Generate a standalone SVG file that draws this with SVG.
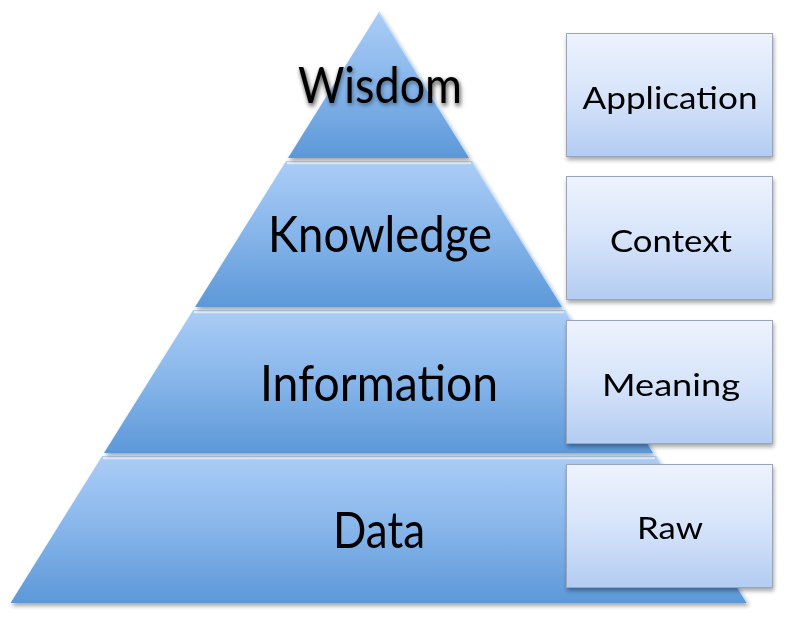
<svg xmlns="http://www.w3.org/2000/svg" width="800" height="617" viewBox="0 0 800 617">
<style>
.lay{stroke:none}
.hl{fill:none;stroke:#e4f0ff;stroke-width:2.5;stroke-linecap:round}
.edge{fill:none;stroke:#c4ddfa;stroke-width:1.5}
.big{font-family:Lato,"Open Sans","Liberation Sans",sans-serif;font-size:51px;fill:#000;text-anchor:middle}
.box{fill:url(#gBox);stroke:#9aa6b8;stroke-width:1}
.bt{font-family:Lato,"Open Sans","Liberation Sans",sans-serif;font-size:31px;fill:#000;text-anchor:middle}
</style>
<defs>
<linearGradient id="gLay" x1="0" y1="0" x2="0" y2="1">
<stop offset="0" stop-color="#abcdf6"/>
<stop offset="0.5" stop-color="#86b5ea"/>
<stop offset="1" stop-color="#5c98d8"/>
</linearGradient>
<linearGradient id="gBox" x1="0" y1="0" x2="0" y2="1">
<stop offset="0" stop-color="#edf3fd"/>
<stop offset="0.5" stop-color="#d6e4fa"/>
<stop offset="1" stop-color="#b3ccf2"/>
</linearGradient>
<filter id="sh" x="-10%" y="-10%" width="120%" height="125%">
<feGaussianBlur in="SourceAlpha" stdDeviation="2"/>
<feOffset dx="1" dy="3" result="b"/>
<feComponentTransfer><feFuncA type="linear" slope="0.35"/></feComponentTransfer>
<feMerge><feMergeNode/><feMergeNode in="SourceGraphic"/></feMerge>
</filter>
<filter id="tsh" x="-10%" y="-20%" width="120%" height="140%">
<feGaussianBlur in="SourceAlpha" stdDeviation="2"/>
<feOffset dx="1" dy="2" result="b"/>
<feComponentTransfer><feFuncA type="linear" slope="0.45"/></feComponentTransfer>
<feMerge><feMergeNode/><feMergeNode in="SourceGraphic"/></feMerge>
</filter>
</defs>
<rect width="800" height="617" fill="#ffffff"/>

<g id="data" filter="url(#sh)">
<polygon class="lay" fill="url(#gLay)" points="102.2,456 655.8,456 747.5,603 10.5,603"/>
<line class="hl" x1="104" y1="458" x2="654" y2="458"/>
<line class="edge" x1="655.8" y1="456" x2="747.5" y2="603"/>
<text class="big" x="379" y="548" textLength="92" lengthAdjust="spacingAndGlyphs">Data</text>
</g>
<g id="information" filter="url(#sh)">
<polygon class="lay" fill="url(#gLay)" points="193.2,310 564.8,310 654,453 104,453"/>
<line class="hl" x1="195" y1="312" x2="563" y2="312"/>
<line class="edge" x1="564.8" y1="310" x2="654" y2="453"/>
<text class="big" x="379" y="401" textLength="238" lengthAdjust="spacingAndGlyphs">Information</text>
</g>
<g id="knowledge" filter="url(#sh)">
<polygon class="lay" fill="url(#gLay)" points="286.1,161 471.9,161 562.9,307 195.1,307"/>
<line class="hl" x1="288" y1="163" x2="470" y2="163"/>
<line class="edge" x1="471.9" y1="161" x2="562.9" y2="307"/>
<text class="big" x="380" y="252" textLength="224" lengthAdjust="spacingAndGlyphs">Knowledge</text>
</g>
<g id="wisdom" filter="url(#sh)">
<polygon class="lay" fill="url(#gLay)" points="379,12 470,158 288,158"/>
<line class="edge" x1="379" y1="12" x2="470" y2="158"/>
<text class="big" x="380" y="103" textLength="164" lengthAdjust="spacingAndGlyphs" filter="url(#tsh)">Wisdom</text>
</g>

<g id="application" filter="url(#sh)">
<rect class="box" x="566.5" y="33.5" width="206" height="123"/>
<text class="bt" x="670" y="109" textLength="175" lengthAdjust="spacingAndGlyphs">Application</text>
</g>
<g id="context" filter="url(#sh)">
<rect class="box" x="566.5" y="176.5" width="206" height="123"/>
<text class="bt" x="671" y="252" textLength="122" lengthAdjust="spacingAndGlyphs">Context</text>
</g>
<g id="meaning" filter="url(#sh)">
<rect class="box" x="566.5" y="320.5" width="206" height="123"/>
<text class="bt" x="671" y="396" textLength="138" lengthAdjust="spacingAndGlyphs">Meaning</text>
</g>
<g id="raw" filter="url(#sh)">
<rect class="box" x="566.5" y="464.5" width="206" height="123"/>
<text class="bt" x="670" y="539" textLength="66" lengthAdjust="spacingAndGlyphs">Raw</text>
</g>
<g id="connectors"/>
</svg>
